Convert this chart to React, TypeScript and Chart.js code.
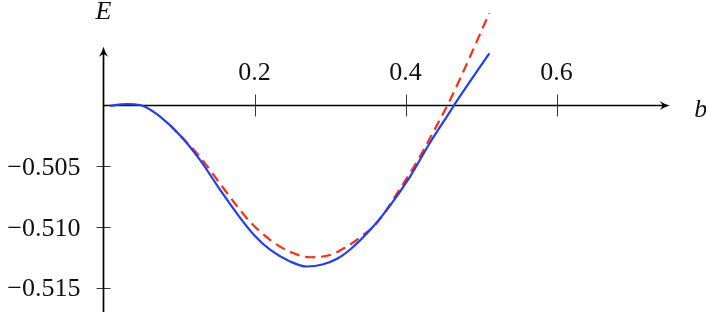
import { useEffect, useRef } from "react";
import { Chart, registerables } from "chart.js";

Chart.register(...registerables);

// Blue solid curve E(b)
const blueB = [0.008, 0.031, 0.048, 0.055, 0.075, 0.101, 0.128, 0.154, 0.181, 0.2, 0.221, 0.247, 0.269, 0.29, 0.31, 0.326, 0.353, 0.38, 0.406, 0.432, 0.459, 0.468, 0.511];
const blueE = [-0.50002, -0.49988, -0.49996, -0.5001, -0.50092, -0.50243, -0.5045, -0.5069, -0.50925, -0.5107, -0.5119, -0.51284, -0.51326, -0.5131, -0.5126, -0.5119, -0.51026, -0.5082, -0.50586, -0.50311, -0.5005, -0.49962, -0.4957];

// Red dashed curve E(b)
const redB = [0.088, 0.128, 0.154, 0.181, 0.194, 0.221, 0.247, 0.274, 0.3, 0.322, 0.34, 0.362, 0.393, 0.419, 0.436, 0.459, 0.511];
const redE = [-0.50161, -0.50425, -0.50641, -0.50861, -0.50957, -0.51108, -0.51204, -0.5125, -0.51231, -0.51163, -0.51085, -0.50968, -0.50682, -0.50422, -0.50227, -0.49955, -0.4924];

// Tick values and labels
const xTicks = [0.2, 0.4, 0.6];
const xTickLabels = ["0.2", "0.4", "0.6"];
const yTicks = [-0.505, -0.51, -0.515];
const yTickLabels = ["\u22120.505", "\u22120.510", "\u22120.515"];

// Axis extents (data units)
const axisOriginX = 0;
const axisOriginY = -0.5;
const xAxisEnd = 0.75;
const yAxisTop = -0.49516;
const yAxisBottom = -0.51701;

const FONT = '"Liberation Serif", "DejaVu Serif", serif';

function drawArrow(ctx: CanvasRenderingContext2D, tx: number, ty: number, dir: "right" | "up") {
  ctx.save();
  ctx.translate(tx, ty);
  if (dir === "up") ctx.rotate(-Math.PI / 2);
  ctx.beginPath();
  ctx.moveTo(0, 0);
  ctx.quadraticCurveTo(-5, -1.2, -10, -4.6);
  ctx.quadraticCurveTo(-7.5, -1.5, -7.5, 0);
  ctx.quadraticCurveTo(-7.5, 1.5, -10, 4.6);
  ctx.quadraticCurveTo(-5, 1.2, 0, 0);
  ctx.closePath();
  ctx.fillStyle = "#000";
  ctx.fill();
  ctx.restore();
}

const axesPlugin = {
  id: "texAxes",
  beforeDatasetsDraw(chart: any) {
    const ctx: CanvasRenderingContext2D = chart.ctx;
    const xs = chart.scales.x;
    const ys = chart.scales.y;
    const ox = xs.getPixelForValue(axisOriginX);
    const oy = ys.getPixelForValue(axisOriginY);
    const xEnd = xs.getPixelForValue(xAxisEnd);
    const yTop = ys.getPixelForValue(yAxisTop);
    const yBot = ys.getPixelForValue(yAxisBottom);
    ctx.save();
    // ticks
    ctx.strokeStyle = "#222";
    ctx.lineWidth = 0.9;
    xTicks.forEach((v) => {
      const px = Math.round(xs.getPixelForValue(v)) + 0.5;
      ctx.beginPath();
      ctx.moveTo(px, oy - 11);
      ctx.lineTo(px, oy + 11);
      ctx.stroke();
    });
    yTicks.forEach((v) => {
      const py = Math.round(ys.getPixelForValue(v)) + 0.5;
      ctx.beginPath();
      ctx.moveTo(ox - 7, py);
      ctx.lineTo(ox + 7, py);
      ctx.stroke();
    });
    // axis lines
    ctx.strokeStyle = "#000";
    ctx.lineWidth = 1.7;
    ctx.beginPath();
    ctx.moveTo(ox, oy);
    ctx.lineTo(xEnd - 6, oy);
    ctx.stroke();
    ctx.beginPath();
    ctx.moveTo(ox, yBot);
    ctx.lineTo(ox, yTop + 6);
    ctx.stroke();
    drawArrow(ctx, xEnd, oy, "right");
    drawArrow(ctx, ox, yTop, "up");
    // tick labels
    ctx.fillStyle = "#111";
    ctx.font = `26px ${FONT}`;
    ctx.textAlign = "center";
    ctx.textBaseline = "alphabetic";
    xTicks.forEach((v, i) => {
      ctx.fillText(xTickLabels[i], xs.getPixelForValue(v), oy - 26);
    });
    ctx.textAlign = "right";
    ctx.textBaseline = "middle";
    yTicks.forEach((v, i) => {
      ctx.fillText(yTickLabels[i], ox - 23, ys.getPixelForValue(v) + 2);
    });
    // axis titles
    ctx.font = `italic 26px ${FONT}`;
    ctx.textAlign = "center";
    ctx.textBaseline = "alphabetic";
    ctx.fillText("E", ox, 19);
    ctx.fillText("b", xEnd + 31, oy + 11);
    ctx.restore();
  },
};

export default function App() {
  const canvasRef = useRef<HTMLCanvasElement | null>(null);
  useEffect(() => {
    if (!canvasRef.current) return;
    const chart = new Chart(canvasRef.current, {
      type: "line",
      data: {
        datasets: [
          {
            label: "blue",
            data: blueB.map((b, i) => ({ x: b, y: blueE[i] })),
            borderColor: "#1f3cff",
            borderWidth: 2.2,
            pointRadius: 0,
            cubicInterpolationMode: "monotone",
            fill: false,
          },
          {
            label: "red",
            data: redB.map((b, i) => ({ x: b, y: redE[i] })),
            borderColor: "#ff2d10",
            borderWidth: 2.2,
            borderDash: [10, 6],
            pointRadius: 0,
            cubicInterpolationMode: "monotone",
            fill: false,
          },
        ],
      },
      options: {
        animation: false,
        responsive: false,
        maintainAspectRatio: false,
        layout: { padding: 0 },
        plugins: { legend: { display: false }, tooltip: { enabled: false } },
        scales: {
          x: { type: "linear", min: -0.13709, max: 0.79801, display: false },
          y: { type: "linear", min: -0.51709, max: -0.49131, display: false },
        },
      },
      plugins: [axesPlugin],
    });
    return () => chart.destroy();
  }, []);
  return (
    <div style={{ position: "fixed", left: 0, top: 0, width: 706, height: 313, background: "#fff" }}>
      <canvas ref={canvasRef} width={706} height={313} />
    </div>
  );
}
